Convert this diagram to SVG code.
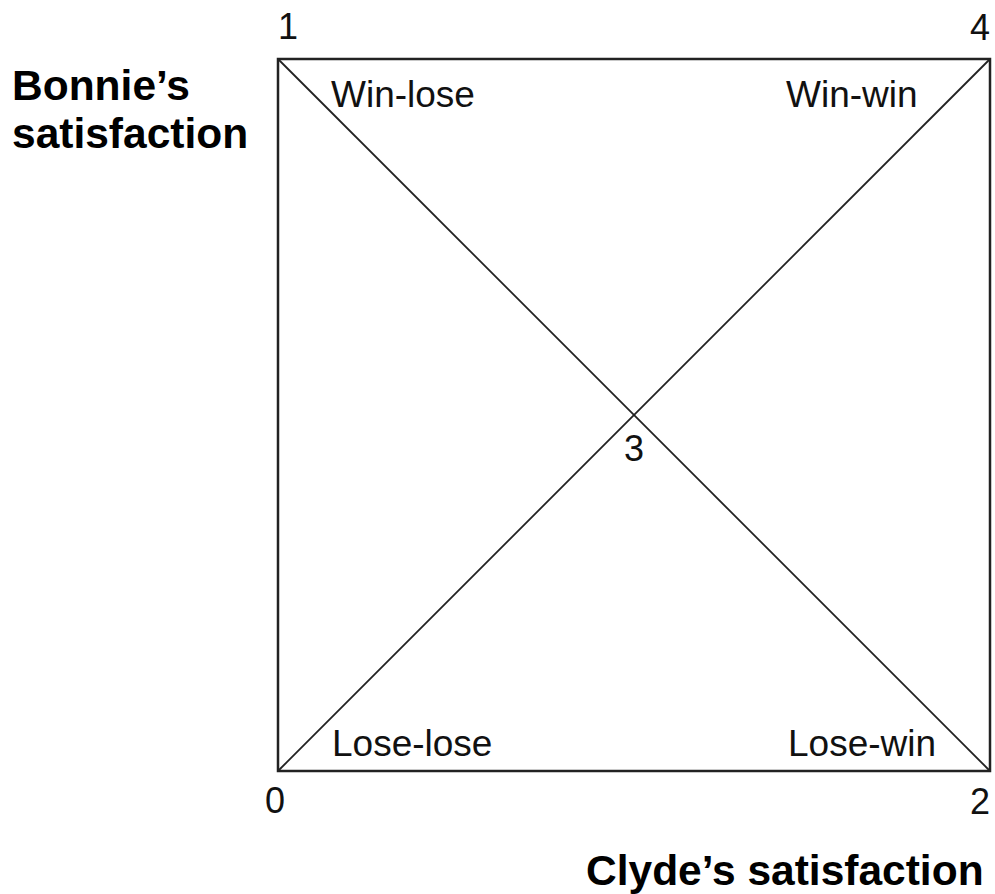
<svg xmlns="http://www.w3.org/2000/svg" width="995" height="894" viewBox="0 0 995 894">
<style>
.t{font-family:"Liberation Sans",Arial,sans-serif;font-size:37px;fill:#111}
.d{font-family:"Liberation Sans",Arial,sans-serif;font-size:36px;fill:#111}
.b{font-family:"Liberation Sans",Arial,sans-serif;font-size:42.5px;font-weight:bold;fill:#000}
.ln{stroke:#222;fill:none}
</style>
<rect width="995" height="894" fill="#fff"/>
<g id="connectors">
<rect class="ln" x="278" y="59" width="712" height="712" stroke-width="2.5"/>
<line class="ln" x1="278" y1="59" x2="990" y2="771" stroke-width="1.8"/>
<line class="ln" x1="278" y1="771" x2="990" y2="59" stroke-width="1.8"/>
</g>
<g id="corner-1"><text class="d" x="278" y="39">1</text></g>
<g id="corner-4"><text class="d" x="990" y="40" text-anchor="end">4</text></g>
<g id="corner-0"><text class="d" x="265" y="813">0</text></g>
<g id="corner-2"><text class="d" x="990" y="814" text-anchor="end">2</text></g>
<g id="center-3"><text class="d" x="634" y="461" text-anchor="middle">3</text></g>
<g id="win-lose"><text class="t" x="331" y="107">Win-lose</text></g>
<g id="win-win"><text class="t" x="786" y="107">Win-win</text></g>
<g id="lose-lose"><text class="t" x="332" y="756">Lose-lose</text></g>
<g id="lose-win"><text class="t" x="788" y="756">Lose-win</text></g>
<g id="bonnie"><text class="b" x="12" y="100">Bonnie’s</text><text class="b" x="12" y="148">satisfaction</text></g>
<g id="clyde"><text class="b" x="586" y="885">Clyde’s satisfaction</text></g>
</svg>
